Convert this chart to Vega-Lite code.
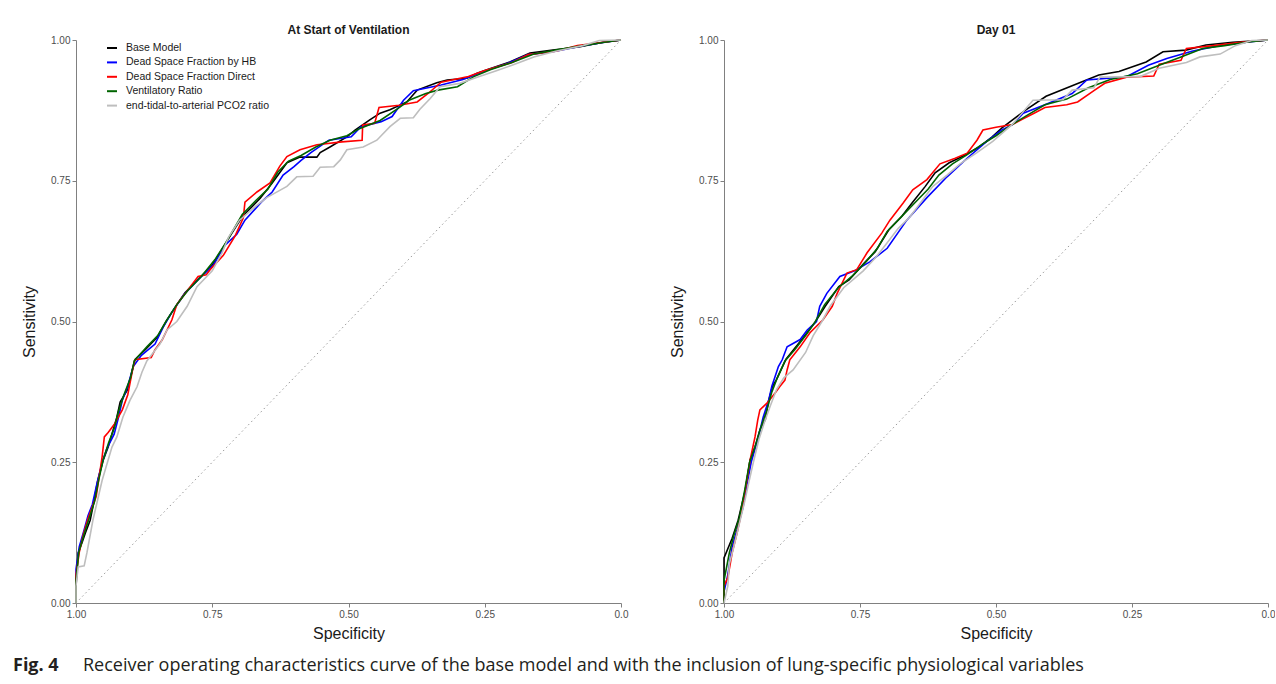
{
  "$schema": "https://vega.github.io/schema/vega-lite/v6.json",
  "background": "white",
  "padding": {"left": 13, "top": 24, "right": 0, "bottom": 0},
  "config": {
    "view": {"stroke": null},
    "axis": {"grid": false, "domainColor": "#808080", "tickColor": "#808080", "tickSize": 4, "labelPadding": 2, "labelFont": "Liberation Sans", "labelFontSize": 10, "labelColor": "#4d4d4d", "titleFont": "Liberation Sans", "titleFontSize": 16, "titleFontWeight": "normal", "titleColor": "#1a1a1a"}
  },
  "datasets": {
    "roc": [
      {"panel":"A","model":"Base Model","spec":1.0,"sens":0.0},{"panel":"A","model":"Base Model","spec":1.0,"sens":0.03},{"panel":"A","model":"Base Model","spec":0.996,"sens":0.089},{"panel":"A","model":"Base Model","spec":0.989,"sens":0.107},{"panel":"A","model":"Base Model","spec":0.983,"sens":0.124},{"panel":"A","model":"Base Model","spec":0.974,"sens":0.147},{"panel":"A","model":"Base Model","spec":0.969,"sens":0.171},{"panel":"A","model":"Base Model","spec":0.96,"sens":0.218},{"panel":"A","model":"Base Model","spec":0.95,"sens":0.254},{"panel":"A","model":"Base Model","spec":0.941,"sens":0.277},{"panel":"A","model":"Base Model","spec":0.932,"sens":0.307},{"panel":"A","model":"Base Model","spec":0.925,"sens":0.33},{"panel":"A","model":"Base Model","spec":0.919,"sens":0.357},{"panel":"A","model":"Base Model","spec":0.906,"sens":0.378},{"panel":"A","model":"Base Model","spec":0.901,"sens":0.396},{"panel":"A","model":"Base Model","spec":0.892,"sens":0.432},{"panel":"A","model":"Base Model","spec":0.873,"sens":0.45},{"panel":"A","model":"Base Model","spec":0.851,"sens":0.472},{"panel":"A","model":"Base Model","spec":0.833,"sens":0.503},{"panel":"A","model":"Base Model","spec":0.815,"sens":0.53},{"panel":"A","model":"Base Model","spec":0.8,"sens":0.551},{"panel":"A","model":"Base Model","spec":0.772,"sens":0.579},{"panel":"A","model":"Base Model","spec":0.75,"sens":0.6},{"panel":"A","model":"Base Model","spec":0.736,"sens":0.622},{"panel":"A","model":"Base Model","spec":0.714,"sens":0.657},{"panel":"A","model":"Base Model","spec":0.695,"sens":0.686},{"panel":"A","model":"Base Model","spec":0.662,"sens":0.719},{"panel":"A","model":"Base Model","spec":0.64,"sens":0.746},{"panel":"A","model":"Base Model","spec":0.613,"sens":0.782},{"panel":"A","model":"Base Model","spec":0.589,"sens":0.792},{"panel":"A","model":"Base Model","spec":0.558,"sens":0.792},{"panel":"A","model":"Base Model","spec":0.552,"sens":0.8},{"panel":"A","model":"Base Model","spec":0.534,"sens":0.81},{"panel":"A","model":"Base Model","spec":0.503,"sens":0.828},{"panel":"A","model":"Base Model","spec":0.488,"sens":0.84},{"panel":"A","model":"Base Model","spec":0.461,"sens":0.858},{"panel":"A","model":"Base Model","spec":0.442,"sens":0.87},{"panel":"A","model":"Base Model","spec":0.424,"sens":0.876},{"panel":"A","model":"Base Model","spec":0.393,"sens":0.89},{"panel":"A","model":"Base Model","spec":0.374,"sens":0.911},{"panel":"A","model":"Base Model","spec":0.338,"sens":0.924},{"panel":"A","model":"Base Model","spec":0.319,"sens":0.929},{"panel":"A","model":"Base Model","spec":0.283,"sens":0.932},{"panel":"A","model":"Base Model","spec":0.264,"sens":0.941},{"panel":"A","model":"Base Model","spec":0.246,"sens":0.947},{"panel":"A","model":"Base Model","spec":0.204,"sens":0.961},{"panel":"A","model":"Base Model","spec":0.167,"sens":0.977},{"panel":"A","model":"Base Model","spec":0.125,"sens":0.982},{"panel":"A","model":"Base Model","spec":0.075,"sens":0.988},{"panel":"A","model":"Base Model","spec":0.033,"sens":0.996},{"panel":"A","model":"Base Model","spec":0.0,"sens":1.0},

      {"panel":"A","model":"Dead Space Fraction by HB","spec":1.0,"sens":0.0},{"panel":"A","model":"Dead Space Fraction by HB","spec":1.0,"sens":0.06},{"panel":"A","model":"Dead Space Fraction by HB","spec":0.994,"sens":0.1},{"panel":"A","model":"Dead Space Fraction by HB","spec":0.985,"sens":0.13},{"panel":"A","model":"Dead Space Fraction by HB","spec":0.978,"sens":0.155},{"panel":"A","model":"Dead Space Fraction by HB","spec":0.97,"sens":0.175},{"panel":"A","model":"Dead Space Fraction by HB","spec":0.962,"sens":0.21},{"panel":"A","model":"Dead Space Fraction by HB","spec":0.952,"sens":0.25},{"panel":"A","model":"Dead Space Fraction by HB","spec":0.943,"sens":0.275},{"panel":"A","model":"Dead Space Fraction by HB","spec":0.93,"sens":0.3},{"panel":"A","model":"Dead Space Fraction by HB","spec":0.922,"sens":0.33},{"panel":"A","model":"Dead Space Fraction by HB","spec":0.915,"sens":0.36},{"panel":"A","model":"Dead Space Fraction by HB","spec":0.905,"sens":0.385},{"panel":"A","model":"Dead Space Fraction by HB","spec":0.895,"sens":0.42},{"panel":"A","model":"Dead Space Fraction by HB","spec":0.88,"sens":0.44},{"panel":"A","model":"Dead Space Fraction by HB","spec":0.855,"sens":0.46},{"panel":"A","model":"Dead Space Fraction by HB","spec":0.84,"sens":0.49},{"panel":"A","model":"Dead Space Fraction by HB","spec":0.825,"sens":0.515},{"panel":"A","model":"Dead Space Fraction by HB","spec":0.8,"sens":0.55},{"panel":"A","model":"Dead Space Fraction by HB","spec":0.775,"sens":0.575},{"panel":"A","model":"Dead Space Fraction by HB","spec":0.748,"sens":0.6},{"panel":"A","model":"Dead Space Fraction by HB","spec":0.727,"sens":0.635},{"panel":"A","model":"Dead Space Fraction by HB","spec":0.705,"sens":0.655},{"panel":"A","model":"Dead Space Fraction by HB","spec":0.69,"sens":0.68},{"panel":"A","model":"Dead Space Fraction by HB","spec":0.66,"sens":0.712},{"panel":"A","model":"Dead Space Fraction by HB","spec":0.64,"sens":0.73},{"panel":"A","model":"Dead Space Fraction by HB","spec":0.62,"sens":0.76},{"panel":"A","model":"Dead Space Fraction by HB","spec":0.6,"sens":0.775},{"panel":"A","model":"Dead Space Fraction by HB","spec":0.587,"sens":0.786},{"panel":"A","model":"Dead Space Fraction by HB","spec":0.569,"sens":0.8},{"panel":"A","model":"Dead Space Fraction by HB","spec":0.536,"sens":0.822},{"panel":"A","model":"Dead Space Fraction by HB","spec":0.495,"sens":0.828},{"panel":"A","model":"Dead Space Fraction by HB","spec":0.477,"sens":0.846},{"panel":"A","model":"Dead Space Fraction by HB","spec":0.44,"sens":0.855},{"panel":"A","model":"Dead Space Fraction by HB","spec":0.42,"sens":0.864},{"panel":"A","model":"Dead Space Fraction by HB","spec":0.399,"sens":0.893},{"panel":"A","model":"Dead Space Fraction by HB","spec":0.381,"sens":0.91},{"panel":"A","model":"Dead Space Fraction by HB","spec":0.33,"sens":0.92},{"panel":"A","model":"Dead Space Fraction by HB","spec":0.29,"sens":0.93},{"panel":"A","model":"Dead Space Fraction by HB","spec":0.25,"sens":0.945},{"panel":"A","model":"Dead Space Fraction by HB","spec":0.21,"sens":0.958},{"panel":"A","model":"Dead Space Fraction by HB","spec":0.17,"sens":0.974},{"panel":"A","model":"Dead Space Fraction by HB","spec":0.12,"sens":0.98},{"panel":"A","model":"Dead Space Fraction by HB","spec":0.07,"sens":0.99},{"panel":"A","model":"Dead Space Fraction by HB","spec":0.03,"sens":0.996},{"panel":"A","model":"Dead Space Fraction by HB","spec":0.0,"sens":1.0},

      {"panel":"A","model":"Dead Space Fraction Direct","spec":1.0,"sens":0.0},{"panel":"A","model":"Dead Space Fraction Direct","spec":1.0,"sens":0.05},{"panel":"A","model":"Dead Space Fraction Direct","spec":0.994,"sens":0.09},{"panel":"A","model":"Dead Space Fraction Direct","spec":0.987,"sens":0.12},{"panel":"A","model":"Dead Space Fraction Direct","spec":0.978,"sens":0.15},{"panel":"A","model":"Dead Space Fraction Direct","spec":0.963,"sens":0.189},{"panel":"A","model":"Dead Space Fraction Direct","spec":0.952,"sens":0.26},{"panel":"A","model":"Dead Space Fraction Direct","spec":0.948,"sens":0.295},{"panel":"A","model":"Dead Space Fraction Direct","spec":0.941,"sens":0.303},{"panel":"A","model":"Dead Space Fraction Direct","spec":0.93,"sens":0.317},{"panel":"A","model":"Dead Space Fraction Direct","spec":0.915,"sens":0.343},{"panel":"A","model":"Dead Space Fraction Direct","spec":0.905,"sens":0.37},{"panel":"A","model":"Dead Space Fraction Direct","spec":0.897,"sens":0.41},{"panel":"A","model":"Dead Space Fraction Direct","spec":0.892,"sens":0.432},{"panel":"A","model":"Dead Space Fraction Direct","spec":0.862,"sens":0.436},{"panel":"A","model":"Dead Space Fraction Direct","spec":0.855,"sens":0.45},{"panel":"A","model":"Dead Space Fraction Direct","spec":0.842,"sens":0.467},{"panel":"A","model":"Dead Space Fraction Direct","spec":0.824,"sens":0.503},{"panel":"A","model":"Dead Space Fraction Direct","spec":0.815,"sens":0.53},{"panel":"A","model":"Dead Space Fraction Direct","spec":0.776,"sens":0.58},{"panel":"A","model":"Dead Space Fraction Direct","spec":0.761,"sens":0.583},{"panel":"A","model":"Dead Space Fraction Direct","spec":0.754,"sens":0.592},{"panel":"A","model":"Dead Space Fraction Direct","spec":0.73,"sens":0.617},{"panel":"A","model":"Dead Space Fraction Direct","spec":0.708,"sens":0.652},{"panel":"A","model":"Dead Space Fraction Direct","spec":0.693,"sens":0.684},{"panel":"A","model":"Dead Space Fraction Direct","spec":0.69,"sens":0.712},{"panel":"A","model":"Dead Space Fraction Direct","spec":0.668,"sens":0.73},{"panel":"A","model":"Dead Space Fraction Direct","spec":0.644,"sens":0.746},{"panel":"A","model":"Dead Space Fraction Direct","spec":0.626,"sens":0.776},{"panel":"A","model":"Dead Space Fraction Direct","spec":0.613,"sens":0.793},{"panel":"A","model":"Dead Space Fraction Direct","spec":0.589,"sens":0.805},{"panel":"A","model":"Dead Space Fraction Direct","spec":0.558,"sens":0.814},{"panel":"A","model":"Dead Space Fraction Direct","spec":0.512,"sens":0.819},{"panel":"A","model":"Dead Space Fraction Direct","spec":0.475,"sens":0.822},{"panel":"A","model":"Dead Space Fraction Direct","spec":0.474,"sens":0.849},{"panel":"A","model":"Dead Space Fraction Direct","spec":0.452,"sens":0.852},{"panel":"A","model":"Dead Space Fraction Direct","spec":0.444,"sens":0.88},{"panel":"A","model":"Dead Space Fraction Direct","spec":0.407,"sens":0.884},{"panel":"A","model":"Dead Space Fraction Direct","spec":0.374,"sens":0.89},{"panel":"A","model":"Dead Space Fraction Direct","spec":0.354,"sens":0.905},{"panel":"A","model":"Dead Space Fraction Direct","spec":0.33,"sens":0.925},{"panel":"A","model":"Dead Space Fraction Direct","spec":0.28,"sens":0.935},{"panel":"A","model":"Dead Space Fraction Direct","spec":0.25,"sens":0.946},{"panel":"A","model":"Dead Space Fraction Direct","spec":0.2,"sens":0.96},{"panel":"A","model":"Dead Space Fraction Direct","spec":0.17,"sens":0.974},{"panel":"A","model":"Dead Space Fraction Direct","spec":0.12,"sens":0.98},{"panel":"A","model":"Dead Space Fraction Direct","spec":0.08,"sens":0.99},{"panel":"A","model":"Dead Space Fraction Direct","spec":0.04,"sens":0.995},{"panel":"A","model":"Dead Space Fraction Direct","spec":0.0,"sens":1.0},

      {"panel":"A","model":"Ventilatory Ratio","spec":1.0,"sens":0.0},{"panel":"A","model":"Ventilatory Ratio","spec":1.0,"sens":0.04},{"panel":"A","model":"Ventilatory Ratio","spec":0.995,"sens":0.09},{"panel":"A","model":"Ventilatory Ratio","spec":0.986,"sens":0.12},{"panel":"A","model":"Ventilatory Ratio","spec":0.976,"sens":0.15},{"panel":"A","model":"Ventilatory Ratio","spec":0.966,"sens":0.18},{"panel":"A","model":"Ventilatory Ratio","spec":0.958,"sens":0.22},{"panel":"A","model":"Ventilatory Ratio","spec":0.95,"sens":0.255},{"panel":"A","model":"Ventilatory Ratio","spec":0.94,"sens":0.285},{"panel":"A","model":"Ventilatory Ratio","spec":0.93,"sens":0.31},{"panel":"A","model":"Ventilatory Ratio","spec":0.922,"sens":0.34},{"panel":"A","model":"Ventilatory Ratio","spec":0.912,"sens":0.37},{"panel":"A","model":"Ventilatory Ratio","spec":0.9,"sens":0.4},{"panel":"A","model":"Ventilatory Ratio","spec":0.893,"sens":0.43},{"panel":"A","model":"Ventilatory Ratio","spec":0.87,"sens":0.455},{"panel":"A","model":"Ventilatory Ratio","spec":0.85,"sens":0.475},{"panel":"A","model":"Ventilatory Ratio","spec":0.835,"sens":0.5},{"panel":"A","model":"Ventilatory Ratio","spec":0.815,"sens":0.53},{"panel":"A","model":"Ventilatory Ratio","spec":0.795,"sens":0.555},{"panel":"A","model":"Ventilatory Ratio","spec":0.77,"sens":0.58},{"panel":"A","model":"Ventilatory Ratio","spec":0.745,"sens":0.61},{"panel":"A","model":"Ventilatory Ratio","spec":0.725,"sens":0.64},{"panel":"A","model":"Ventilatory Ratio","spec":0.71,"sens":0.665},{"panel":"A","model":"Ventilatory Ratio","spec":0.695,"sens":0.69},{"panel":"A","model":"Ventilatory Ratio","spec":0.67,"sens":0.715},{"panel":"A","model":"Ventilatory Ratio","spec":0.648,"sens":0.735},{"panel":"A","model":"Ventilatory Ratio","spec":0.63,"sens":0.765},{"panel":"A","model":"Ventilatory Ratio","spec":0.61,"sens":0.785},{"panel":"A","model":"Ventilatory Ratio","spec":0.587,"sens":0.795},{"panel":"A","model":"Ventilatory Ratio","spec":0.56,"sens":0.81},{"panel":"A","model":"Ventilatory Ratio","spec":0.534,"sens":0.822},{"panel":"A","model":"Ventilatory Ratio","spec":0.503,"sens":0.83},{"panel":"A","model":"Ventilatory Ratio","spec":0.479,"sens":0.843},{"panel":"A","model":"Ventilatory Ratio","spec":0.442,"sens":0.857},{"panel":"A","model":"Ventilatory Ratio","spec":0.407,"sens":0.88},{"panel":"A","model":"Ventilatory Ratio","spec":0.389,"sens":0.893},{"panel":"A","model":"Ventilatory Ratio","spec":0.358,"sens":0.905},{"panel":"A","model":"Ventilatory Ratio","spec":0.336,"sens":0.911},{"panel":"A","model":"Ventilatory Ratio","spec":0.3,"sens":0.917},{"panel":"A","model":"Ventilatory Ratio","spec":0.27,"sens":0.935},{"panel":"A","model":"Ventilatory Ratio","spec":0.24,"sens":0.947},{"panel":"A","model":"Ventilatory Ratio","spec":0.2,"sens":0.96},{"panel":"A","model":"Ventilatory Ratio","spec":0.16,"sens":0.975},{"panel":"A","model":"Ventilatory Ratio","spec":0.12,"sens":0.982},{"panel":"A","model":"Ventilatory Ratio","spec":0.07,"sens":0.99},{"panel":"A","model":"Ventilatory Ratio","spec":0.03,"sens":0.996},{"panel":"A","model":"Ventilatory Ratio","spec":0.0,"sens":1.0},

      {"panel":"A","model":"end-tidal-to-arterial PCO2 ratio","spec":1.0,"sens":0.0},{"panel":"A","model":"end-tidal-to-arterial PCO2 ratio","spec":1.0,"sens":0.03},{"panel":"A","model":"end-tidal-to-arterial PCO2 ratio","spec":0.996,"sens":0.064},{"panel":"A","model":"end-tidal-to-arterial PCO2 ratio","spec":0.985,"sens":0.066},{"panel":"A","model":"end-tidal-to-arterial PCO2 ratio","spec":0.98,"sens":0.089},{"panel":"A","model":"end-tidal-to-arterial PCO2 ratio","spec":0.969,"sens":0.147},{"panel":"A","model":"end-tidal-to-arterial PCO2 ratio","spec":0.952,"sens":0.218},{"panel":"A","model":"end-tidal-to-arterial PCO2 ratio","spec":0.934,"sens":0.277},{"panel":"A","model":"end-tidal-to-arterial PCO2 ratio","spec":0.925,"sens":0.295},{"panel":"A","model":"end-tidal-to-arterial PCO2 ratio","spec":0.914,"sens":0.33},{"panel":"A","model":"end-tidal-to-arterial PCO2 ratio","spec":0.901,"sens":0.36},{"panel":"A","model":"end-tidal-to-arterial PCO2 ratio","spec":0.888,"sens":0.384},{"panel":"A","model":"end-tidal-to-arterial PCO2 ratio","spec":0.879,"sens":0.41},{"panel":"A","model":"end-tidal-to-arterial PCO2 ratio","spec":0.87,"sens":0.43},{"panel":"A","model":"end-tidal-to-arterial PCO2 ratio","spec":0.846,"sens":0.46},{"panel":"A","model":"end-tidal-to-arterial PCO2 ratio","spec":0.833,"sens":0.485},{"panel":"A","model":"end-tidal-to-arterial PCO2 ratio","spec":0.815,"sens":0.5},{"panel":"A","model":"end-tidal-to-arterial PCO2 ratio","spec":0.796,"sens":0.527},{"panel":"A","model":"end-tidal-to-arterial PCO2 ratio","spec":0.778,"sens":0.562},{"panel":"A","model":"end-tidal-to-arterial PCO2 ratio","spec":0.75,"sens":0.59},{"panel":"A","model":"end-tidal-to-arterial PCO2 ratio","spec":0.732,"sens":0.622},{"panel":"A","model":"end-tidal-to-arterial PCO2 ratio","spec":0.72,"sens":0.65},{"panel":"A","model":"end-tidal-to-arterial PCO2 ratio","spec":0.7,"sens":0.68},{"panel":"A","model":"end-tidal-to-arterial PCO2 ratio","spec":0.67,"sens":0.705},{"panel":"A","model":"end-tidal-to-arterial PCO2 ratio","spec":0.65,"sens":0.72},{"panel":"A","model":"end-tidal-to-arterial PCO2 ratio","spec":0.613,"sens":0.74},{"panel":"A","model":"end-tidal-to-arterial PCO2 ratio","spec":0.595,"sens":0.757},{"panel":"A","model":"end-tidal-to-arterial PCO2 ratio","spec":0.565,"sens":0.758},{"panel":"A","model":"end-tidal-to-arterial PCO2 ratio","spec":0.552,"sens":0.774},{"panel":"A","model":"end-tidal-to-arterial PCO2 ratio","spec":0.527,"sens":0.775},{"panel":"A","model":"end-tidal-to-arterial PCO2 ratio","spec":0.515,"sens":0.787},{"panel":"A","model":"end-tidal-to-arterial PCO2 ratio","spec":0.503,"sens":0.805},{"panel":"A","model":"end-tidal-to-arterial PCO2 ratio","spec":0.473,"sens":0.81},{"panel":"A","model":"end-tidal-to-arterial PCO2 ratio","spec":0.448,"sens":0.822},{"panel":"A","model":"end-tidal-to-arterial PCO2 ratio","spec":0.424,"sens":0.846},{"panel":"A","model":"end-tidal-to-arterial PCO2 ratio","spec":0.405,"sens":0.861},{"panel":"A","model":"end-tidal-to-arterial PCO2 ratio","spec":0.381,"sens":0.862},{"panel":"A","model":"end-tidal-to-arterial PCO2 ratio","spec":0.369,"sens":0.877},{"panel":"A","model":"end-tidal-to-arterial PCO2 ratio","spec":0.35,"sens":0.896},{"panel":"A","model":"end-tidal-to-arterial PCO2 ratio","spec":0.332,"sens":0.917},{"panel":"A","model":"end-tidal-to-arterial PCO2 ratio","spec":0.296,"sens":0.923},{"panel":"A","model":"end-tidal-to-arterial PCO2 ratio","spec":0.26,"sens":0.935},{"panel":"A","model":"end-tidal-to-arterial PCO2 ratio","spec":0.23,"sens":0.945},{"panel":"A","model":"end-tidal-to-arterial PCO2 ratio","spec":0.2,"sens":0.955},{"panel":"A","model":"end-tidal-to-arterial PCO2 ratio","spec":0.16,"sens":0.97},{"panel":"A","model":"end-tidal-to-arterial PCO2 ratio","spec":0.12,"sens":0.98},{"panel":"A","model":"end-tidal-to-arterial PCO2 ratio","spec":0.07,"sens":0.99},{"panel":"A","model":"end-tidal-to-arterial PCO2 ratio","spec":0.04,"sens":0.999},{"panel":"A","model":"end-tidal-to-arterial PCO2 ratio","spec":0.0,"sens":1.0},

      {"panel":"B","model":"Base Model","spec":1.0,"sens":0.0},{"panel":"B","model":"Base Model","spec":1.0,"sens":0.08},{"panel":"B","model":"Base Model","spec":0.985,"sens":0.115},{"panel":"B","model":"Base Model","spec":0.974,"sens":0.147},{"panel":"B","model":"Base Model","spec":0.961,"sens":0.2},{"panel":"B","model":"Base Model","spec":0.952,"sens":0.254},{"panel":"B","model":"Base Model","spec":0.943,"sens":0.277},{"panel":"B","model":"Base Model","spec":0.934,"sens":0.307},{"panel":"B","model":"Base Model","spec":0.924,"sens":0.326},{"panel":"B","model":"Base Model","spec":0.919,"sens":0.355},{"panel":"B","model":"Base Model","spec":0.911,"sens":0.385},{"panel":"B","model":"Base Model","spec":0.904,"sens":0.396},{"panel":"B","model":"Base Model","spec":0.886,"sens":0.433},{"panel":"B","model":"Base Model","spec":0.857,"sens":0.468},{"panel":"B","model":"Base Model","spec":0.833,"sens":0.498},{"panel":"B","model":"Base Model","spec":0.814,"sens":0.527},{"panel":"B","model":"Base Model","spec":0.789,"sens":0.562},{"panel":"B","model":"Base Model","spec":0.77,"sens":0.574},{"panel":"B","model":"Base Model","spec":0.741,"sens":0.605},{"panel":"B","model":"Base Model","spec":0.722,"sens":0.624},{"panel":"B","model":"Base Model","spec":0.697,"sens":0.663},{"panel":"B","model":"Base Model","spec":0.673,"sens":0.687},{"panel":"B","model":"Base Model","spec":0.654,"sens":0.711},{"panel":"B","model":"Base Model","spec":0.63,"sens":0.74},{"panel":"B","model":"Base Model","spec":0.612,"sens":0.764},{"panel":"B","model":"Base Model","spec":0.586,"sens":0.782},{"panel":"B","model":"Base Model","spec":0.562,"sens":0.793},{"panel":"B","model":"Base Model","spec":0.531,"sens":0.81},{"panel":"B","model":"Base Model","spec":0.507,"sens":0.828},{"panel":"B","model":"Base Model","spec":0.489,"sens":0.844},{"panel":"B","model":"Base Model","spec":0.445,"sens":0.876},{"panel":"B","model":"Base Model","spec":0.408,"sens":0.9},{"panel":"B","model":"Base Model","spec":0.311,"sens":0.938},{"panel":"B","model":"Base Model","spec":0.274,"sens":0.944},{"panel":"B","model":"Base Model","spec":0.224,"sens":0.961},{"panel":"B","model":"Base Model","spec":0.193,"sens":0.979},{"panel":"B","model":"Base Model","spec":0.151,"sens":0.982},{"panel":"B","model":"Base Model","spec":0.114,"sens":0.991},{"panel":"B","model":"Base Model","spec":0.065,"sens":0.996},{"panel":"B","model":"Base Model","spec":0.0,"sens":1.0},

      {"panel":"B","model":"Dead Space Fraction by HB","spec":1.0,"sens":0.0},{"panel":"B","model":"Dead Space Fraction by HB","spec":1.0,"sens":0.02},{"panel":"B","model":"Dead Space Fraction by HB","spec":0.993,"sens":0.05},{"panel":"B","model":"Dead Space Fraction by HB","spec":0.985,"sens":0.1},{"panel":"B","model":"Dead Space Fraction by HB","spec":0.976,"sens":0.13},{"panel":"B","model":"Dead Space Fraction by HB","spec":0.965,"sens":0.17},{"panel":"B","model":"Dead Space Fraction by HB","spec":0.958,"sens":0.21},{"panel":"B","model":"Dead Space Fraction by HB","spec":0.95,"sens":0.25},{"panel":"B","model":"Dead Space Fraction by HB","spec":0.938,"sens":0.29},{"panel":"B","model":"Dead Space Fraction by HB","spec":0.928,"sens":0.33},{"panel":"B","model":"Dead Space Fraction by HB","spec":0.918,"sens":0.36},{"panel":"B","model":"Dead Space Fraction by HB","spec":0.912,"sens":0.385},{"panel":"B","model":"Dead Space Fraction by HB","spec":0.9,"sens":0.42},{"panel":"B","model":"Dead Space Fraction by HB","spec":0.893,"sens":0.432},{"panel":"B","model":"Dead Space Fraction by HB","spec":0.884,"sens":0.455},{"panel":"B","model":"Dead Space Fraction by HB","spec":0.86,"sens":0.468},{"panel":"B","model":"Dead Space Fraction by HB","spec":0.847,"sens":0.485},{"panel":"B","model":"Dead Space Fraction by HB","spec":0.83,"sens":0.5},{"panel":"B","model":"Dead Space Fraction by HB","spec":0.824,"sens":0.527},{"panel":"B","model":"Dead Space Fraction by HB","spec":0.811,"sens":0.55},{"panel":"B","model":"Dead Space Fraction by HB","spec":0.787,"sens":0.58},{"panel":"B","model":"Dead Space Fraction by HB","spec":0.76,"sens":0.59},{"panel":"B","model":"Dead Space Fraction by HB","spec":0.732,"sens":0.606},{"panel":"B","model":"Dead Space Fraction by HB","spec":0.7,"sens":0.63},{"panel":"B","model":"Dead Space Fraction by HB","spec":0.664,"sens":0.68},{"panel":"B","model":"Dead Space Fraction by HB","spec":0.627,"sens":0.72},{"panel":"B","model":"Dead Space Fraction by HB","spec":0.59,"sens":0.757},{"panel":"B","model":"Dead Space Fraction by HB","spec":0.553,"sens":0.79},{"panel":"B","model":"Dead Space Fraction by HB","spec":0.517,"sens":0.82},{"panel":"B","model":"Dead Space Fraction by HB","spec":0.49,"sens":0.84},{"panel":"B","model":"Dead Space Fraction by HB","spec":0.469,"sens":0.85},{"panel":"B","model":"Dead Space Fraction by HB","spec":0.45,"sens":0.87},{"panel":"B","model":"Dead Space Fraction by HB","spec":0.41,"sens":0.885},{"panel":"B","model":"Dead Space Fraction by HB","spec":0.36,"sens":0.905},{"panel":"B","model":"Dead Space Fraction by HB","spec":0.333,"sens":0.929},{"panel":"B","model":"Dead Space Fraction by HB","spec":0.26,"sens":0.935},{"panel":"B","model":"Dead Space Fraction by HB","spec":0.22,"sens":0.955},{"panel":"B","model":"Dead Space Fraction by HB","spec":0.186,"sens":0.967},{"panel":"B","model":"Dead Space Fraction by HB","spec":0.14,"sens":0.98},{"panel":"B","model":"Dead Space Fraction by HB","spec":0.09,"sens":0.99},{"panel":"B","model":"Dead Space Fraction by HB","spec":0.04,"sens":0.996},{"panel":"B","model":"Dead Space Fraction by HB","spec":0.0,"sens":1.0},

      {"panel":"B","model":"Dead Space Fraction Direct","spec":1.0,"sens":0.0},{"panel":"B","model":"Dead Space Fraction Direct","spec":1.0,"sens":0.03},{"panel":"B","model":"Dead Space Fraction Direct","spec":0.993,"sens":0.045},{"panel":"B","model":"Dead Space Fraction Direct","spec":0.985,"sens":0.089},{"panel":"B","model":"Dead Space Fraction Direct","spec":0.976,"sens":0.124},{"panel":"B","model":"Dead Space Fraction Direct","spec":0.971,"sens":0.147},{"panel":"B","model":"Dead Space Fraction Direct","spec":0.961,"sens":0.2},{"panel":"B","model":"Dead Space Fraction Direct","spec":0.952,"sens":0.254},{"panel":"B","model":"Dead Space Fraction Direct","spec":0.943,"sens":0.295},{"panel":"B","model":"Dead Space Fraction Direct","spec":0.938,"sens":0.325},{"panel":"B","model":"Dead Space Fraction Direct","spec":0.934,"sens":0.343},{"panel":"B","model":"Dead Space Fraction Direct","spec":0.921,"sens":0.355},{"panel":"B","model":"Dead Space Fraction Direct","spec":0.906,"sens":0.373},{"panel":"B","model":"Dead Space Fraction Direct","spec":0.897,"sens":0.385},{"panel":"B","model":"Dead Space Fraction Direct","spec":0.888,"sens":0.396},{"panel":"B","model":"Dead Space Fraction Direct","spec":0.884,"sens":0.414},{"panel":"B","model":"Dead Space Fraction Direct","spec":0.879,"sens":0.432},{"panel":"B","model":"Dead Space Fraction Direct","spec":0.86,"sens":0.455},{"panel":"B","model":"Dead Space Fraction Direct","spec":0.842,"sens":0.48},{"panel":"B","model":"Dead Space Fraction Direct","spec":0.818,"sens":0.503},{"panel":"B","model":"Dead Space Fraction Direct","spec":0.801,"sens":0.527},{"panel":"B","model":"Dead Space Fraction Direct","spec":0.792,"sens":0.55},{"panel":"B","model":"Dead Space Fraction Direct","spec":0.774,"sens":0.586},{"panel":"B","model":"Dead Space Fraction Direct","spec":0.756,"sens":0.592},{"panel":"B","model":"Dead Space Fraction Direct","spec":0.737,"sens":0.622},{"panel":"B","model":"Dead Space Fraction Direct","spec":0.71,"sens":0.657},{"panel":"B","model":"Dead Space Fraction Direct","spec":0.695,"sens":0.68},{"panel":"B","model":"Dead Space Fraction Direct","spec":0.671,"sens":0.71},{"panel":"B","model":"Dead Space Fraction Direct","spec":0.653,"sens":0.734},{"panel":"B","model":"Dead Space Fraction Direct","spec":0.627,"sens":0.752},{"panel":"B","model":"Dead Space Fraction Direct","spec":0.603,"sens":0.78},{"panel":"B","model":"Dead Space Fraction Direct","spec":0.575,"sens":0.79},{"panel":"B","model":"Dead Space Fraction Direct","spec":0.553,"sens":0.799},{"panel":"B","model":"Dead Space Fraction Direct","spec":0.535,"sens":0.822},{"panel":"B","model":"Dead Space Fraction Direct","spec":0.524,"sens":0.84},{"panel":"B","model":"Dead Space Fraction Direct","spec":0.5,"sens":0.845},{"panel":"B","model":"Dead Space Fraction Direct","spec":0.47,"sens":0.85},{"panel":"B","model":"Dead Space Fraction Direct","spec":0.45,"sens":0.86},{"panel":"B","model":"Dead Space Fraction Direct","spec":0.43,"sens":0.87},{"panel":"B","model":"Dead Space Fraction Direct","spec":0.41,"sens":0.88},{"panel":"B","model":"Dead Space Fraction Direct","spec":0.37,"sens":0.885},{"panel":"B","model":"Dead Space Fraction Direct","spec":0.35,"sens":0.89},{"panel":"B","model":"Dead Space Fraction Direct","spec":0.32,"sens":0.91},{"panel":"B","model":"Dead Space Fraction Direct","spec":0.3,"sens":0.923},{"panel":"B","model":"Dead Space Fraction Direct","spec":0.26,"sens":0.934},{"panel":"B","model":"Dead Space Fraction Direct","spec":0.21,"sens":0.936},{"panel":"B","model":"Dead Space Fraction Direct","spec":0.2,"sens":0.957},{"panel":"B","model":"Dead Space Fraction Direct","spec":0.16,"sens":0.964},{"panel":"B","model":"Dead Space Fraction Direct","spec":0.15,"sens":0.985},{"panel":"B","model":"Dead Space Fraction Direct","spec":0.1,"sens":0.99},{"panel":"B","model":"Dead Space Fraction Direct","spec":0.05,"sens":0.996},{"panel":"B","model":"Dead Space Fraction Direct","spec":0.0,"sens":1.0},

      {"panel":"B","model":"Ventilatory Ratio","spec":1.0,"sens":0.0},{"panel":"B","model":"Ventilatory Ratio","spec":1.0,"sens":0.04},{"panel":"B","model":"Ventilatory Ratio","spec":0.99,"sens":0.09},{"panel":"B","model":"Ventilatory Ratio","spec":0.982,"sens":0.12},{"panel":"B","model":"Ventilatory Ratio","spec":0.972,"sens":0.15},{"panel":"B","model":"Ventilatory Ratio","spec":0.962,"sens":0.2},{"panel":"B","model":"Ventilatory Ratio","spec":0.953,"sens":0.25},{"panel":"B","model":"Ventilatory Ratio","spec":0.942,"sens":0.28},{"panel":"B","model":"Ventilatory Ratio","spec":0.933,"sens":0.31},{"panel":"B","model":"Ventilatory Ratio","spec":0.922,"sens":0.34},{"panel":"B","model":"Ventilatory Ratio","spec":0.912,"sens":0.375},{"panel":"B","model":"Ventilatory Ratio","spec":0.902,"sens":0.4},{"panel":"B","model":"Ventilatory Ratio","spec":0.888,"sens":0.43},{"panel":"B","model":"Ventilatory Ratio","spec":0.87,"sens":0.45},{"panel":"B","model":"Ventilatory Ratio","spec":0.85,"sens":0.475},{"panel":"B","model":"Ventilatory Ratio","spec":0.832,"sens":0.5},{"panel":"B","model":"Ventilatory Ratio","spec":0.815,"sens":0.53},{"panel":"B","model":"Ventilatory Ratio","spec":0.79,"sens":0.56},{"panel":"B","model":"Ventilatory Ratio","spec":0.765,"sens":0.58},{"panel":"B","model":"Ventilatory Ratio","spec":0.74,"sens":0.605},{"panel":"B","model":"Ventilatory Ratio","spec":0.718,"sens":0.63},{"panel":"B","model":"Ventilatory Ratio","spec":0.7,"sens":0.66},{"panel":"B","model":"Ventilatory Ratio","spec":0.675,"sens":0.685},{"panel":"B","model":"Ventilatory Ratio","spec":0.65,"sens":0.71},{"panel":"B","model":"Ventilatory Ratio","spec":0.625,"sens":0.735},{"panel":"B","model":"Ventilatory Ratio","spec":0.605,"sens":0.76},{"panel":"B","model":"Ventilatory Ratio","spec":0.58,"sens":0.78},{"panel":"B","model":"Ventilatory Ratio","spec":0.555,"sens":0.795},{"panel":"B","model":"Ventilatory Ratio","spec":0.525,"sens":0.815},{"panel":"B","model":"Ventilatory Ratio","spec":0.5,"sens":0.83},{"panel":"B","model":"Ventilatory Ratio","spec":0.47,"sens":0.85},{"panel":"B","model":"Ventilatory Ratio","spec":0.44,"sens":0.868},{"panel":"B","model":"Ventilatory Ratio","spec":0.41,"sens":0.885},{"panel":"B","model":"Ventilatory Ratio","spec":0.37,"sens":0.895},{"panel":"B","model":"Ventilatory Ratio","spec":0.33,"sens":0.915},{"panel":"B","model":"Ventilatory Ratio","spec":0.29,"sens":0.93},{"panel":"B","model":"Ventilatory Ratio","spec":0.24,"sens":0.94},{"panel":"B","model":"Ventilatory Ratio","spec":0.2,"sens":0.955},{"panel":"B","model":"Ventilatory Ratio","spec":0.16,"sens":0.97},{"panel":"B","model":"Ventilatory Ratio","spec":0.12,"sens":0.985},{"panel":"B","model":"Ventilatory Ratio","spec":0.08,"sens":0.99},{"panel":"B","model":"Ventilatory Ratio","spec":0.04,"sens":0.996},{"panel":"B","model":"Ventilatory Ratio","spec":0.0,"sens":1.0},

      {"panel":"B","model":"end-tidal-to-arterial PCO2 ratio","spec":1.0,"sens":0.0},{"panel":"B","model":"end-tidal-to-arterial PCO2 ratio","spec":0.993,"sens":0.03},{"panel":"B","model":"end-tidal-to-arterial PCO2 ratio","spec":0.99,"sens":0.07},{"panel":"B","model":"end-tidal-to-arterial PCO2 ratio","spec":0.982,"sens":0.1},{"panel":"B","model":"end-tidal-to-arterial PCO2 ratio","spec":0.972,"sens":0.14},{"panel":"B","model":"end-tidal-to-arterial PCO2 ratio","spec":0.962,"sens":0.18},{"panel":"B","model":"end-tidal-to-arterial PCO2 ratio","spec":0.953,"sens":0.22},{"panel":"B","model":"end-tidal-to-arterial PCO2 ratio","spec":0.946,"sens":0.25},{"panel":"B","model":"end-tidal-to-arterial PCO2 ratio","spec":0.936,"sens":0.29},{"panel":"B","model":"end-tidal-to-arterial PCO2 ratio","spec":0.926,"sens":0.32},{"panel":"B","model":"end-tidal-to-arterial PCO2 ratio","spec":0.915,"sens":0.35},{"panel":"B","model":"end-tidal-to-arterial PCO2 ratio","spec":0.903,"sens":0.38},{"panel":"B","model":"end-tidal-to-arterial PCO2 ratio","spec":0.89,"sens":0.4},{"panel":"B","model":"end-tidal-to-arterial PCO2 ratio","spec":0.873,"sens":0.414},{"panel":"B","model":"end-tidal-to-arterial PCO2 ratio","spec":0.85,"sens":0.445},{"panel":"B","model":"end-tidal-to-arterial PCO2 ratio","spec":0.836,"sens":0.475},{"panel":"B","model":"end-tidal-to-arterial PCO2 ratio","spec":0.82,"sens":0.5},{"panel":"B","model":"end-tidal-to-arterial PCO2 ratio","spec":0.805,"sens":0.527},{"panel":"B","model":"end-tidal-to-arterial PCO2 ratio","spec":0.78,"sens":0.56},{"panel":"B","model":"end-tidal-to-arterial PCO2 ratio","spec":0.744,"sens":0.59},{"panel":"B","model":"end-tidal-to-arterial PCO2 ratio","spec":0.72,"sens":0.615},{"panel":"B","model":"end-tidal-to-arterial PCO2 ratio","spec":0.7,"sens":0.64},{"panel":"B","model":"end-tidal-to-arterial PCO2 ratio","spec":0.68,"sens":0.665},{"panel":"B","model":"end-tidal-to-arterial PCO2 ratio","spec":0.658,"sens":0.686},{"panel":"B","model":"end-tidal-to-arterial PCO2 ratio","spec":0.616,"sens":0.74},{"panel":"B","model":"end-tidal-to-arterial PCO2 ratio","spec":0.59,"sens":0.76},{"panel":"B","model":"end-tidal-to-arterial PCO2 ratio","spec":0.566,"sens":0.78},{"panel":"B","model":"end-tidal-to-arterial PCO2 ratio","spec":0.535,"sens":0.8},{"panel":"B","model":"end-tidal-to-arterial PCO2 ratio","spec":0.506,"sens":0.82},{"panel":"B","model":"end-tidal-to-arterial PCO2 ratio","spec":0.47,"sens":0.85},{"panel":"B","model":"end-tidal-to-arterial PCO2 ratio","spec":0.432,"sens":0.893},{"panel":"B","model":"end-tidal-to-arterial PCO2 ratio","spec":0.377,"sens":0.894},{"panel":"B","model":"end-tidal-to-arterial PCO2 ratio","spec":0.36,"sens":0.911},{"panel":"B","model":"end-tidal-to-arterial PCO2 ratio","spec":0.32,"sens":0.915},{"panel":"B","model":"end-tidal-to-arterial PCO2 ratio","spec":0.309,"sens":0.934},{"panel":"B","model":"end-tidal-to-arterial PCO2 ratio","spec":0.235,"sens":0.935},{"panel":"B","model":"end-tidal-to-arterial PCO2 ratio","spec":0.2,"sens":0.95},{"panel":"B","model":"end-tidal-to-arterial PCO2 ratio","spec":0.15,"sens":0.96},{"panel":"B","model":"end-tidal-to-arterial PCO2 ratio","spec":0.125,"sens":0.97},{"panel":"B","model":"end-tidal-to-arterial PCO2 ratio","spec":0.088,"sens":0.975},{"panel":"B","model":"end-tidal-to-arterial PCO2 ratio","spec":0.06,"sens":0.99},{"panel":"B","model":"end-tidal-to-arterial PCO2 ratio","spec":0.03,"sens":0.999},{"panel":"B","model":"end-tidal-to-arterial PCO2 ratio","spec":0.0,"sens":1.0}
    ],
    "diag": [{"spec": 1.0, "sens": 0.0}, {"spec": 0.0, "sens": 1.0}]
  },
  "spacing": 16,
  "vconcat": [
    {
      "hconcat": [
        {
          "width": 545, "height": 563,
          "title": {"text": "At Start of Ventilation", "font": "Liberation Sans", "fontSize": 12, "fontWeight": "bold", "color": "#1a1a1a", "offset": -2},
          "layer": [
            {
              "data": {"name": "diag"},
              "mark": {"type": "line", "color": "#9a9a9a", "strokeWidth": 1, "strokeDash": [1.5, 3]},
              "encoding": {
                "x": {"field": "spec", "type": "quantitative", "scale": {"domain": [0, 1], "reverse": true, "nice": false}},
                "y": {"field": "sens", "type": "quantitative", "scale": {"domain": [0, 1], "nice": false}}
              }
            },
            {
              "data": {"name": "roc"},
              "transform": [{"filter": "datum.panel === 'A'"}],
              "mark": {"type": "line", "strokeWidth": 1.6},
              "encoding": {
                "x": {"field": "spec", "type": "quantitative", "title": "Specificity", "scale": {"domain": [0, 1], "reverse": true, "nice": false}, "axis": {"values": [1, 0.75, 0.5, 0.25, 0], "labelExpr": "datum.value === 0 ? '0.0' : format(datum.value, '.2f')", "titlePadding": 6, "labelFlush": false}},
                "y": {"field": "sens", "type": "quantitative", "title": "Sensitivity", "scale": {"domain": [0, 1], "nice": false}, "axis": {"values": [0, 0.25, 0.5, 0.75, 1], "format": ".2f", "titlePadding": 13, "labelFlush": false}},
                "color": {"field": "model", "type": "nominal",
                  "scale": {"domain": ["Base Model", "Dead Space Fraction by HB", "Dead Space Fraction Direct", "Ventilatory Ratio", "end-tidal-to-arterial PCO2 ratio"], "range": ["#000000", "#0000ff", "#ff0000", "#006400", "#bebebe"]},
                  "legend": {"orient": "none", "legendX": 30, "legendY": 2, "title": null, "symbolType": "stroke", "symbolSize": 100, "symbolStrokeWidth": 2, "labelFont": "Liberation Sans", "labelFontSize": 10.5, "labelColor": "#1a1a1a", "rowPadding": 2.4, "labelOffset": 8}},
                "order": [{"field": "sens", "type": "quantitative"}, {"field": "spec", "type": "quantitative", "sort": "descending"}]
              }
            }
          ]
        },
        {
          "width": 544, "height": 563,
          "title": {"text": "Day 01", "font": "Liberation Sans", "fontSize": 12, "fontWeight": "bold", "color": "#1a1a1a", "offset": -2},
          "layer": [
            {
              "data": {"name": "diag"},
              "mark": {"type": "line", "color": "#9a9a9a", "strokeWidth": 1, "strokeDash": [1.5, 3]},
              "encoding": {
                "x": {"field": "spec", "type": "quantitative", "scale": {"domain": [0, 1], "reverse": true, "nice": false}},
                "y": {"field": "sens", "type": "quantitative", "scale": {"domain": [0, 1], "nice": false}}
              }
            },
            {
              "data": {"name": "roc"},
              "transform": [{"filter": "datum.panel === 'B'"}],
              "mark": {"type": "line", "strokeWidth": 1.6},
              "encoding": {
                "x": {"field": "spec", "type": "quantitative", "title": "Specificity", "scale": {"domain": [0, 1], "reverse": true, "nice": false}, "axis": {"values": [1, 0.75, 0.5, 0.25, 0], "labelExpr": "datum.value === 0 ? '0.0' : format(datum.value, '.2f')", "titlePadding": 6, "labelFlush": false}},
                "y": {"field": "sens", "type": "quantitative", "title": "Sensitivity", "scale": {"domain": [0, 1], "nice": false}, "axis": {"values": [0, 0.25, 0.5, 0.75, 1], "format": ".2f", "titlePadding": 13, "labelFlush": false}},
                "color": {"field": "model", "type": "nominal",
                  "scale": {"domain": ["Base Model", "Dead Space Fraction by HB", "Dead Space Fraction Direct", "Ventilatory Ratio", "end-tidal-to-arterial PCO2 ratio"], "range": ["#000000", "#0000ff", "#ff0000", "#006400", "#bebebe"]},
                  "legend": null},
                "order": [{"field": "sens", "type": "quantitative"}, {"field": "spec", "type": "quantitative", "sort": "descending"}]
              }
            }
          ]
        }
      ],
      "bounds": "flush",
      "spacing": 103,
      "resolve": {"legend": {"color": "independent"}}
    },
    {
      "hconcat": [
        {"width": 1, "height": 1, "data": {"values": []}, "mark": "text",
         "title": {"text": "Fig. 4", "anchor": "start", "orient": "top", "font": "Open Sans", "fontSize": 18, "fontWeight": "bold", "color": "#231f20", "offset": 0, "dx": -63}},
        {"width": 1, "height": 1, "data": {"values": []}, "mark": "text",
         "title": {"text": "Receiver operating characteristics curve of the base model and with the inclusion of lung-specific physiological variables", "anchor": "start", "orient": "top", "font": "Open Sans", "fontSize": 18, "fontWeight": "normal", "color": "#231f20", "offset": 0}}
      ],
      "spacing": 6
    }
  ]
}
